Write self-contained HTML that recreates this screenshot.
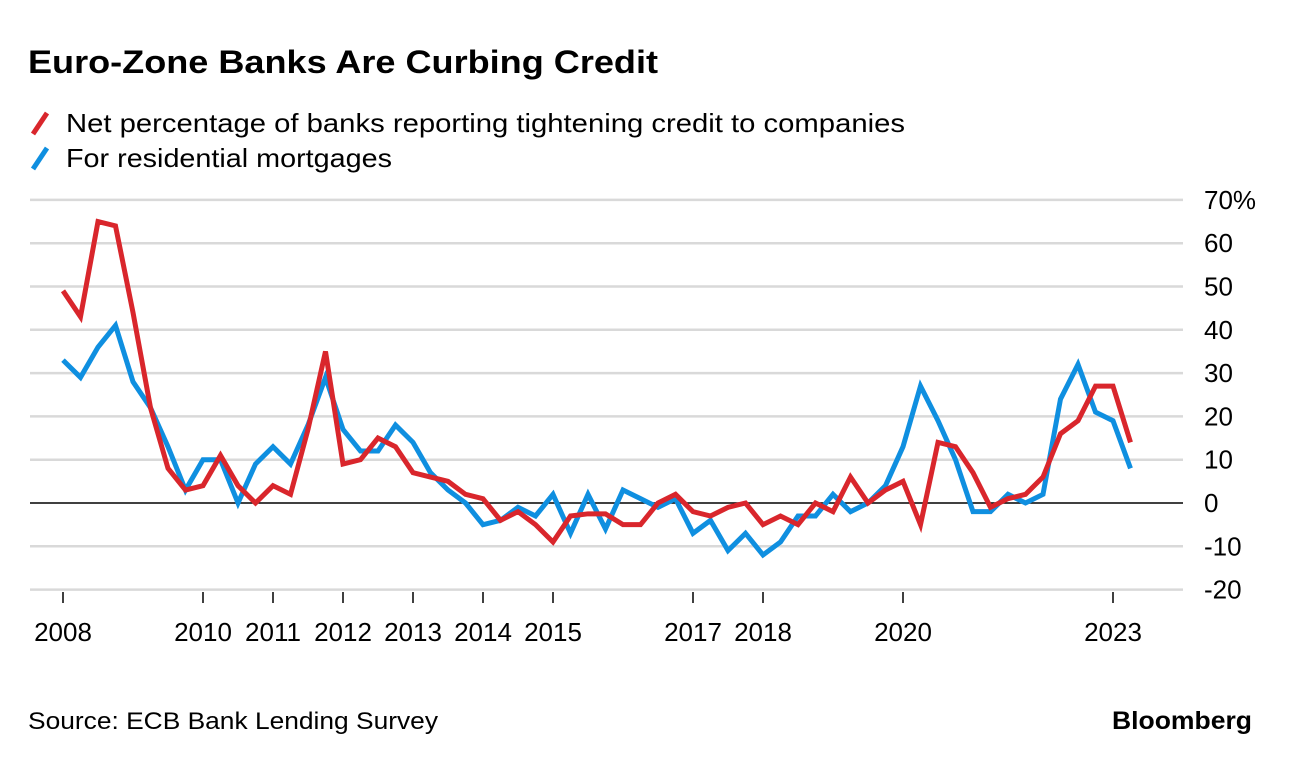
<!DOCTYPE html>
<html><head><meta charset="utf-8"><style>
body{margin:0;background:#fff;font-family:"Liberation Sans",sans-serif;}
</style></head><body>
<svg width="1292" height="762" xmlns="http://www.w3.org/2000/svg" font-family="Liberation Sans, sans-serif">
<text x="28" y="73" font-size="32" font-weight="bold" fill="#000" textLength="630" lengthAdjust="spacingAndGlyphs">Euro-Zone Banks Are Curbing Credit</text>
<g>
<line x1="33" y1="134" x2="47" y2="113" stroke="#d9262c" stroke-width="5"/>
<text x="66" y="132" font-size="26" fill="#000" textLength="839" lengthAdjust="spacingAndGlyphs">Net percentage of banks reporting tightening credit to companies</text>
<line x1="33" y1="169" x2="47" y2="148" stroke="#0f8fe0" stroke-width="5"/>
<text x="66" y="167" font-size="26" fill="#000" textLength="326" lengthAdjust="spacingAndGlyphs">For residential mortgages</text>
</g>
<g id="grid"></g><g id="xaxis"></g><g id="series"></g>
<text x="28" y="729" font-size="24" fill="#000" textLength="410" lengthAdjust="spacingAndGlyphs">Source: ECB Bank Lending Survey</text>
<text x="1112" y="729" font-size="25" font-weight="bold" fill="#000" textLength="140" lengthAdjust="spacingAndGlyphs">Bloomberg</text>
</svg>
<script>
const yTicks=[70,60,50,40,30,20,10,0,-10,-20];
const xTickYears=[2008,2010,2011,2012,2013,2014,2015,2017,2018,2020,2023];
const companies=[49,43,65,64,44,22,8,3,4,11,4,0,4,2,17,35,9,10,15,13,7,6,5,2,1,-4,-2,-5,-9,-3,-2.5,-2.5,-5,-5,0,2,-2,-3,-1,0,-5,-3,-5,0,-2,6,0,3,5,-5,14,13,7,-1,1,2,6,16,19,27,27,14];
const mortgages=[33,29,36,41,28,22,13,3,10,10,0,9,13,9,18,29,17,12,12,18,14,7,3,0,-5,-4,-1,-3,2,-7,2,-6,3,1,-1,1,-7,-4,-11,-7,-12,-9,-3,-3,2,-2,0,4,13,27,19,10,-2,-2,2,0,2,24,32,21,19,8];
const NS="http://www.w3.org/2000/svg";
const xOf=i=>63+17.5*i;
const xYear=y=>63+70*(y-2008);
const yOf=v=>503-v*4.33;
function mk(t,a,p){const e=document.createElementNS(NS,t);for(const k in a)e.setAttribute(k,a[k]);p.appendChild(e);return e;}
const grid=document.getElementById('grid');
yTicks.forEach(v=>{
 const l=mk('line',{x1:30,x2:1183,y1:yOf(v),y2:yOf(v),stroke:v===0?'#000':'#d9d9d9','stroke-width':v===0?1.5:2.5},grid);
 
 
 const t=mk('text',{x:1204,y:yOf(v)+9,'font-size':26,fill:'#000'},grid);
 t.textContent=v===70?'70%':String(v);
 
 
});
const xa=document.getElementById('xaxis');
xTickYears.forEach(y=>{
 const l=mk('line',{x1:xYear(y),x2:xYear(y),y1:592,y2:603,stroke:'#000','stroke-width':1.5},xa);
 
 
 const t=mk('text',{x:xYear(y),y:641,'font-size':26,fill:'#000','text-anchor':'middle'},xa);
 t.textContent=String(y);
 
 
});
const sg=document.getElementById('series');
function line(d,c,n){
 const p=mk('polyline',{points:d.map((v,i)=>xOf(i)+','+yOf(v)).join(' '),fill:'none',stroke:c,'stroke-width':5,'stroke-linejoin':'miter'},sg);
 
 
}
line(mortgages,'#0f8fe0','mortgages-line');
line(companies,'#d9262c','companies-line');
</script>
</body></html>
